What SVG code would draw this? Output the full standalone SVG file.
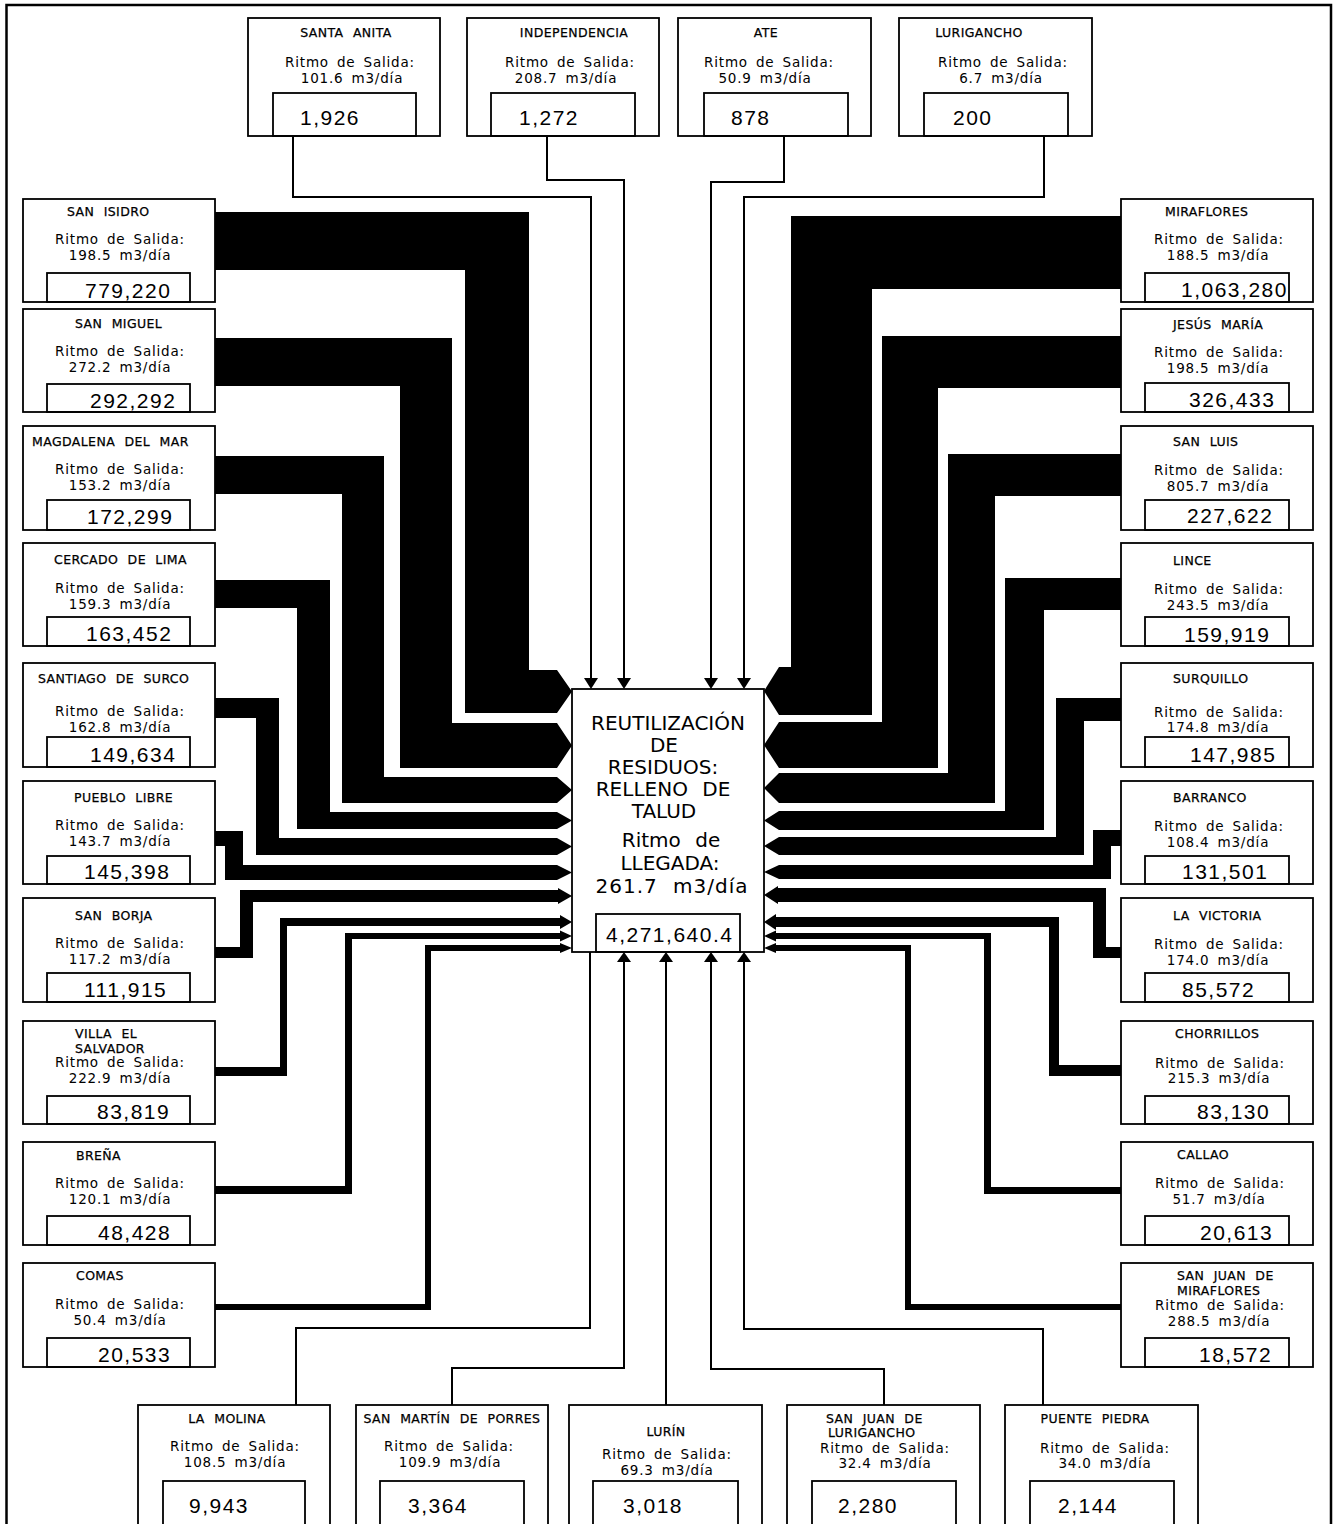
<svg xmlns="http://www.w3.org/2000/svg" width="1338" height="1524" viewBox="0 0 1338 1524">
<style>
text{font-family:"DejaVu Sans","Liberation Sans",sans-serif;fill:#000}
.box{fill:#fff;stroke:#000;stroke-width:1.8}
.inb{fill:none;stroke:#000;stroke-width:1.8}
.t{font-size:12.5px;letter-spacing:0.4px;word-spacing:5px;stroke:#000;stroke-width:0.25px}
.tm{font-size:12.5px;letter-spacing:0.4px;word-spacing:5px;text-anchor:middle;stroke:#000;stroke-width:0.25px}
.r{font-size:13.5px;letter-spacing:0.8px;word-spacing:3px;text-anchor:middle}
.n{font-family:"Liberation Sans","DejaVu Sans",sans-serif;font-size:21px;letter-spacing:1.5px}
.c{font-size:20px;text-anchor:middle}
.band{fill:#000}
.ln{fill:none;stroke:#000;stroke-width:2}
.ah{fill:#000}
</style>
<rect width="1338" height="1524" fill="#fff"/>
<path d="M6.5,1530 V5 H1331 V1530" fill="none" stroke="#000" stroke-width="2.5"/>

<g id="connectors">
<!-- left bands -->
<polygon class="band" points="215,212 529,212 529,670 557,670 572,691.5 557,713 465,713 465,270 215,270"/>
<polygon class="band" points="215,338 452,338 452,723 557,723 572,745.5 557,768 400,768 400,386 215,386"/>
<polygon class="band" points="215,456 384,456 384,777 557,777 572,790 557,803 342,803 342,494 215,494"/>
<polygon class="band" points="215,580 330,580 330,812 557,812 572,820.5 557,829 297,829 297,608 215,608"/>
<polygon class="band" points="215,698 279,698 279,838 557,838 572,846.5 557,855 256,855 256,718 215,718"/>
<polygon class="band" points="215,831 243,831 243,865 557,865 572,872.5 557,880 225,880 225,846 215,846"/>
<polygon class="band" points="215,947 240,947 240,890 558,890 558,888 572,896 558,904 558,902 253,902 253,958 215,958"/>
<polygon class="band" points="215,1067 280,1067 280,918 560,918 560,915 572,922 560,929 560,926 287,926 287,1076 215,1076"/>
<polygon class="band" points="215,1186 345,1186 345,933 560,933 560,930.5 572,936 560,941.5 560,939 352,939 352,1194 215,1194"/>
<polygon class="band" points="215,1304 425,1304 425,945 560,945 560,943 572,948 560,953 560,951 431,951 431,1310 215,1310"/>
<!-- right bands -->
<polygon class="band" points="1121,216 791,216 791,667 779,667 764,691 779,715 872,715 872,289 1121,289"/>
<polygon class="band" points="1121,336 882,336 882,722 779,722 764,745 779,768 938,768 938,388 1121,388"/>
<polygon class="band" points="1121,454 948,454 948,773 779,773 764,788 779,803 995,803 995,496 1121,496"/>
<polygon class="band" points="1121,578 1005,578 1005,811 779,811 764,820.5 779,830 1044,830 1044,610 1121,610"/>
<polygon class="band" points="1121,698 1056,698 1056,837 779,837 764,846 779,855 1084,855 1084,721 1121,721"/>
<polygon class="band" points="1121,830 1093,830 1093,865 779,865 764,872 779,879 1111,879 1111,846 1121,846"/>
<polygon class="band" points="1121,947 1106,947 1106,888 778,888 778,886 764,895 778,904 778,902 1093,902 1093,958 1121,958"/>
<polygon class="band" points="1121,1065 1059,1065 1059,917 776,917 776,914 764,922 776,930 776,927 1049,927 1049,1076 1121,1076"/>
<polygon class="band" points="1121,1187 991,1187 991,933 776,933 776,930.5 764,936 776,941.5 776,939 984,939 984,1194 1121,1194"/>
<polygon class="band" points="1121,1304 911,1304 911,945 776,945 776,943 764,948 776,953 776,951 905,951 905,1310 1121,1310"/>
<!-- top thin connectors -->
<path class="ln" d="M293,136 V197 H591 V680"/>
<path class="ln" d="M547,136 V180 H624 V680"/>
<path class="ln" d="M784,136 V182 H711 V680"/>
<path class="ln" d="M1044,136 V197 H744 V680"/>
<polygon class="ah" points="584,678 598,678 591,689"/>
<polygon class="ah" points="617,678 631,678 624,689"/>
<polygon class="ah" points="704,678 718,678 711,689"/>
<polygon class="ah" points="737,678 751,678 744,689"/>
<!-- bottom thin connectors -->
<path class="ln" d="M296,1405 V1328 H590 V952"/>
<path class="ln" d="M452,1405 V1368 H624 V962"/>
<path class="ln" d="M666,1405 V962"/>
<path class="ln" d="M884,1405 V1369 H711 V962"/>
<path class="ln" d="M1043,1405 V1329 H744 V962"/>
<polygon class="ah" points="617,962 631,962 624,952"/>
<polygon class="ah" points="659,962 673,962 666,952"/>
<polygon class="ah" points="704,962 718,962 711,952"/>
<polygon class="ah" points="737,962 751,962 744,952"/>
</g>

<g id="center">
<rect class="box" x="572" y="689" width="192" height="263"/>
<rect class="inb" x="596" y="914" width="144" height="38"/>
<text class="c" x="668" y="730">REUTILIZACIÓN</text>
<text class="c" x="664" y="752">DE</text>
<text class="c" x="663" y="774">RESIDUOS:</text>
<text class="c" x="663" y="796" word-spacing="8">RELLENO DE</text>
<text class="c" x="664" y="818">TALUD</text>
<text class="c" x="671" y="847" word-spacing="8">Ritmo de</text>
<text class="c" x="670" y="870">LLEGADA:</text>
<text class="c" x="672" y="893" word-spacing="8" letter-spacing="1">261.7 m3/día</text>
<text class="n" x="606" y="942">4,271,640.4</text>
</g>

<!-- top nodes -->
<g id="santa-anita">
<rect class="box" x="248" y="18" width="192" height="118"/>
<rect class="inb" x="273" y="93" width="143" height="43"/>
<text class="tm" x="346" y="37">SANTA ANITA</text>
<text class="r" x="350" y="67">Ritmo de Salida:</text>
<text class="r" x="352" y="83">101.6 m3/día</text>
<text class="n" x="300" y="125">1,926</text>
</g>
<g id="independencia">
<rect class="box" x="467" y="18" width="192" height="118"/>
<rect class="inb" x="491" y="93" width="144" height="43"/>
<text class="tm" x="574" y="37">INDEPENDENCIA</text>
<text class="r" x="570" y="67">Ritmo de Salida:</text>
<text class="r" x="566" y="83">208.7 m3/día</text>
<text class="n" x="519" y="125">1,272</text>
</g>
<g id="ate">
<rect class="box" x="678" y="18" width="193" height="118"/>
<rect class="inb" x="704" y="93" width="144" height="43"/>
<text class="tm" x="766" y="37">ATE</text>
<text class="r" x="769" y="67">Ritmo de Salida:</text>
<text class="r" x="765" y="83">50.9 m3/día</text>
<text class="n" x="731" y="125">878</text>
</g>
<g id="lurigancho">
<rect class="box" x="899" y="18" width="193" height="118"/>
<rect class="inb" x="924" y="93" width="144" height="43"/>
<text class="tm" x="979" y="37">LURIGANCHO</text>
<text class="r" x="1003" y="67">Ritmo de Salida:</text>
<text class="r" x="1001" y="83">6.7 m3/día</text>
<text class="n" x="953" y="125">200</text>
</g>

<!-- left nodes -->
<g id="san-isidro">
<rect class="box" x="23" y="199" width="192" height="103"/>
<rect class="inb" x="47" y="273" width="143" height="29"/>
<text class="t" x="67" y="216">SAN ISIDRO</text>
<text class="r" x="120" y="244">Ritmo de Salida:</text>
<text class="r" x="120" y="260">198.5 m3/día</text>
<text class="n" x="85" y="298">779,220</text>
</g>
<g id="san-miguel">
<rect class="box" x="23" y="309" width="192" height="103"/>
<rect class="inb" x="47" y="384" width="143" height="28"/>
<text class="t" x="75" y="328">SAN MIGUEL</text>
<text class="r" x="120" y="356">Ritmo de Salida:</text>
<text class="r" x="120" y="372">272.2 m3/día</text>
<text class="n" x="90" y="408">292,292</text>
</g>
<g id="magdalena">
<rect class="box" x="23" y="426" width="192" height="104"/>
<rect class="inb" x="47" y="500" width="143" height="30"/>
<text class="t" x="32" y="446">MAGDALENA DEL MAR</text>
<text class="r" x="120" y="474">Ritmo de Salida:</text>
<text class="r" x="120" y="490">153.2 m3/día</text>
<text class="n" x="87" y="524">172,299</text>
</g>
<g id="cercado">
<rect class="box" x="23" y="543" width="192" height="103"/>
<rect class="inb" x="47" y="617" width="143" height="29"/>
<text class="t" x="54" y="564">CERCADO DE LIMA</text>
<text class="r" x="120" y="593">Ritmo de Salida:</text>
<text class="r" x="120" y="609">159.3 m3/día</text>
<text class="n" x="86" y="641">163,452</text>
</g>
<g id="surco">
<rect class="box" x="23" y="663" width="192" height="104"/>
<rect class="inb" x="47" y="737" width="143" height="30"/>
<text class="t" x="38" y="683">SANTIAGO DE SURCO</text>
<text class="r" x="120" y="716">Ritmo de Salida:</text>
<text class="r" x="120" y="732">162.8 m3/día</text>
<text class="n" x="90" y="762">149,634</text>
</g>
<g id="pueblo-libre">
<rect class="box" x="23" y="781" width="192" height="103"/>
<rect class="inb" x="47" y="856" width="143" height="28"/>
<text class="t" x="74" y="802">PUEBLO LIBRE</text>
<text class="r" x="120" y="830">Ritmo de Salida:</text>
<text class="r" x="120" y="846">143.7 m3/día</text>
<text class="n" x="84" y="879">145,398</text>
</g>
<g id="san-borja">
<rect class="box" x="23" y="898" width="192" height="104"/>
<rect class="inb" x="47" y="973" width="143" height="29"/>
<text class="t" x="75" y="920">SAN BORJA</text>
<text class="r" x="120" y="948">Ritmo de Salida:</text>
<text class="r" x="120" y="964">117.2 m3/día</text>
<text class="n" x="84" y="997">111,915</text>
</g>
<g id="villa-el-salvador">
<rect class="box" x="23" y="1021" width="192" height="103"/>
<rect class="inb" x="47" y="1096" width="143" height="28"/>
<text class="t" x="75" y="1038">VILLA EL</text>
<text class="t" x="75" y="1053">SALVADOR</text>
<text class="r" x="120" y="1067">Ritmo de Salida:</text>
<text class="r" x="120" y="1083">222.9 m3/día</text>
<text class="n" x="97" y="1119">83,819</text>
</g>
<g id="brena">
<rect class="box" x="23" y="1142" width="192" height="103"/>
<rect class="inb" x="47" y="1216" width="143" height="29"/>
<text class="t" x="76" y="1160">BREÑA</text>
<text class="r" x="120" y="1188">Ritmo de Salida:</text>
<text class="r" x="120" y="1204">120.1 m3/día</text>
<text class="n" x="98" y="1240">48,428</text>
</g>
<g id="comas">
<rect class="box" x="23" y="1263" width="192" height="104"/>
<rect class="inb" x="47" y="1338" width="143" height="29"/>
<text class="t" x="76" y="1280">COMAS</text>
<text class="r" x="120" y="1309">Ritmo de Salida:</text>
<text class="r" x="120" y="1325">50.4 m3/día</text>
<text class="n" x="98" y="1362">20,533</text>
</g>

<!-- right nodes -->
<g id="miraflores">
<rect class="box" x="1121" y="199" width="192" height="103"/>
<rect class="inb" x="1145" y="273" width="144" height="29"/>
<text class="t" x="1165" y="216">MIRAFLORES</text>
<text class="r" x="1219" y="244">Ritmo de Salida:</text>
<text class="r" x="1218" y="260">188.5 m3/día</text>
<text class="n" x="1181" y="297">1,063,280</text>
</g>
<g id="jesus-maria">
<rect class="box" x="1121" y="309" width="192" height="103"/>
<rect class="inb" x="1145" y="383" width="144" height="29"/>
<text class="t" x="1173" y="329">JESÚS MARÍA</text>
<text class="r" x="1219" y="357">Ritmo de Salida:</text>
<text class="r" x="1218" y="373">198.5 m3/día</text>
<text class="n" x="1189" y="407">326,433</text>
</g>
<g id="san-luis">
<rect class="box" x="1121" y="426" width="192" height="104"/>
<rect class="inb" x="1145" y="500" width="144" height="30"/>
<text class="t" x="1173" y="446">SAN LUIS</text>
<text class="r" x="1219" y="475">Ritmo de Salida:</text>
<text class="r" x="1218" y="491">805.7 m3/día</text>
<text class="n" x="1187" y="523">227,622</text>
</g>
<g id="lince">
<rect class="box" x="1121" y="543" width="192" height="103"/>
<rect class="inb" x="1145" y="617" width="144" height="29"/>
<text class="t" x="1173" y="565">LINCE</text>
<text class="r" x="1219" y="594">Ritmo de Salida:</text>
<text class="r" x="1218" y="610">243.5 m3/día</text>
<text class="n" x="1184" y="642">159,919</text>
</g>
<g id="surquillo">
<rect class="box" x="1121" y="663" width="192" height="104"/>
<rect class="inb" x="1145" y="737" width="144" height="30"/>
<text class="t" x="1173" y="683">SURQUILLO</text>
<text class="r" x="1219" y="717">Ritmo de Salida:</text>
<text class="r" x="1218" y="732">174.8 m3/día</text>
<text class="n" x="1190" y="762">147,985</text>
</g>
<g id="barranco">
<rect class="box" x="1121" y="781" width="192" height="103"/>
<rect class="inb" x="1145" y="856" width="144" height="28"/>
<text class="t" x="1173" y="802">BARRANCO</text>
<text class="r" x="1219" y="831">Ritmo de Salida:</text>
<text class="r" x="1218" y="847">108.4 m3/día</text>
<text class="n" x="1182" y="879">131,501</text>
</g>
<g id="la-victoria">
<rect class="box" x="1121" y="898" width="192" height="104"/>
<rect class="inb" x="1145" y="973" width="144" height="29"/>
<text class="t" x="1173" y="920">LA VICTORIA</text>
<text class="r" x="1219" y="949">Ritmo de Salida:</text>
<text class="r" x="1218" y="965">174.0 m3/día</text>
<text class="n" x="1182" y="997">85,572</text>
</g>
<g id="chorrillos">
<rect class="box" x="1121" y="1021" width="192" height="103"/>
<rect class="inb" x="1145" y="1096" width="144" height="28"/>
<text class="t" x="1175" y="1038">CHORRILLOS</text>
<text class="r" x="1220" y="1068">Ritmo de Salida:</text>
<text class="r" x="1219" y="1083">215.3 m3/día</text>
<text class="n" x="1197" y="1119">83,130</text>
</g>
<g id="callao">
<rect class="box" x="1121" y="1142" width="192" height="103"/>
<rect class="inb" x="1145" y="1216" width="144" height="29"/>
<text class="t" x="1177" y="1159">CALLAO</text>
<text class="r" x="1220" y="1188">Ritmo de Salida:</text>
<text class="r" x="1219" y="1204">51.7 m3/día</text>
<text class="n" x="1200" y="1240">20,613</text>
</g>
<g id="san-juan-de-miraflores">
<rect class="box" x="1121" y="1263" width="192" height="104"/>
<rect class="inb" x="1145" y="1338" width="144" height="29"/>
<text class="t" x="1177" y="1280">SAN JUAN DE</text>
<text class="t" x="1177" y="1295">MIRAFLORES</text>
<text class="r" x="1220" y="1310">Ritmo de Salida:</text>
<text class="r" x="1219" y="1326">288.5 m3/día</text>
<text class="n" x="1199" y="1362">18,572</text>
</g>

<!-- bottom nodes -->
<g id="la-molina">
<rect class="box" x="138" y="1405" width="192" height="130"/>
<rect class="inb" x="163" y="1481" width="142" height="54"/>
<text class="tm" x="227" y="1423">LA MOLINA</text>
<text class="r" x="235" y="1451">Ritmo de Salida:</text>
<text class="r" x="235" y="1467">108.5 m3/día</text>
<text class="n" x="189" y="1513">9,943</text>
</g>
<g id="san-martin-de-porres">
<rect class="box" x="356" y="1405" width="192" height="130"/>
<rect class="inb" x="380" y="1481" width="144" height="54"/>
<text class="tm" x="452" y="1423">SAN MARTÍN DE PORRES</text>
<text class="r" x="449" y="1451">Ritmo de Salida:</text>
<text class="r" x="450" y="1467">109.9 m3/día</text>
<text class="n" x="408" y="1513">3,364</text>
</g>
<g id="lurin">
<rect class="box" x="569" y="1405" width="193" height="130"/>
<rect class="inb" x="593" y="1481" width="145" height="54"/>
<text class="tm" x="666" y="1436">LURÍN</text>
<text class="r" x="667" y="1459">Ritmo de Salida:</text>
<text class="r" x="667" y="1475">69.3 m3/día</text>
<text class="n" x="623" y="1513">3,018</text>
</g>
<g id="san-juan-de-lurigancho">
<rect class="box" x="787" y="1405" width="193" height="130"/>
<rect class="inb" x="812" y="1481" width="144" height="54"/>
<text class="t" x="826" y="1423">SAN JUAN DE</text>
<text class="t" x="828" y="1437">LURIGANCHO</text>
<text class="r" x="885" y="1453">Ritmo de Salida:</text>
<text class="r" x="885" y="1468">32.4 m3/día</text>
<text class="n" x="838" y="1513">2,280</text>
</g>
<g id="puente-piedra">
<rect class="box" x="1005" y="1405" width="193" height="130"/>
<rect class="inb" x="1030" y="1481" width="144" height="54"/>
<text class="tm" x="1095" y="1423">PUENTE PIEDRA</text>
<text class="r" x="1105" y="1453">Ritmo de Salida:</text>
<text class="r" x="1105" y="1468">34.0 m3/día</text>
<text class="n" x="1058" y="1513">2,144</text>
</g>
</svg>
